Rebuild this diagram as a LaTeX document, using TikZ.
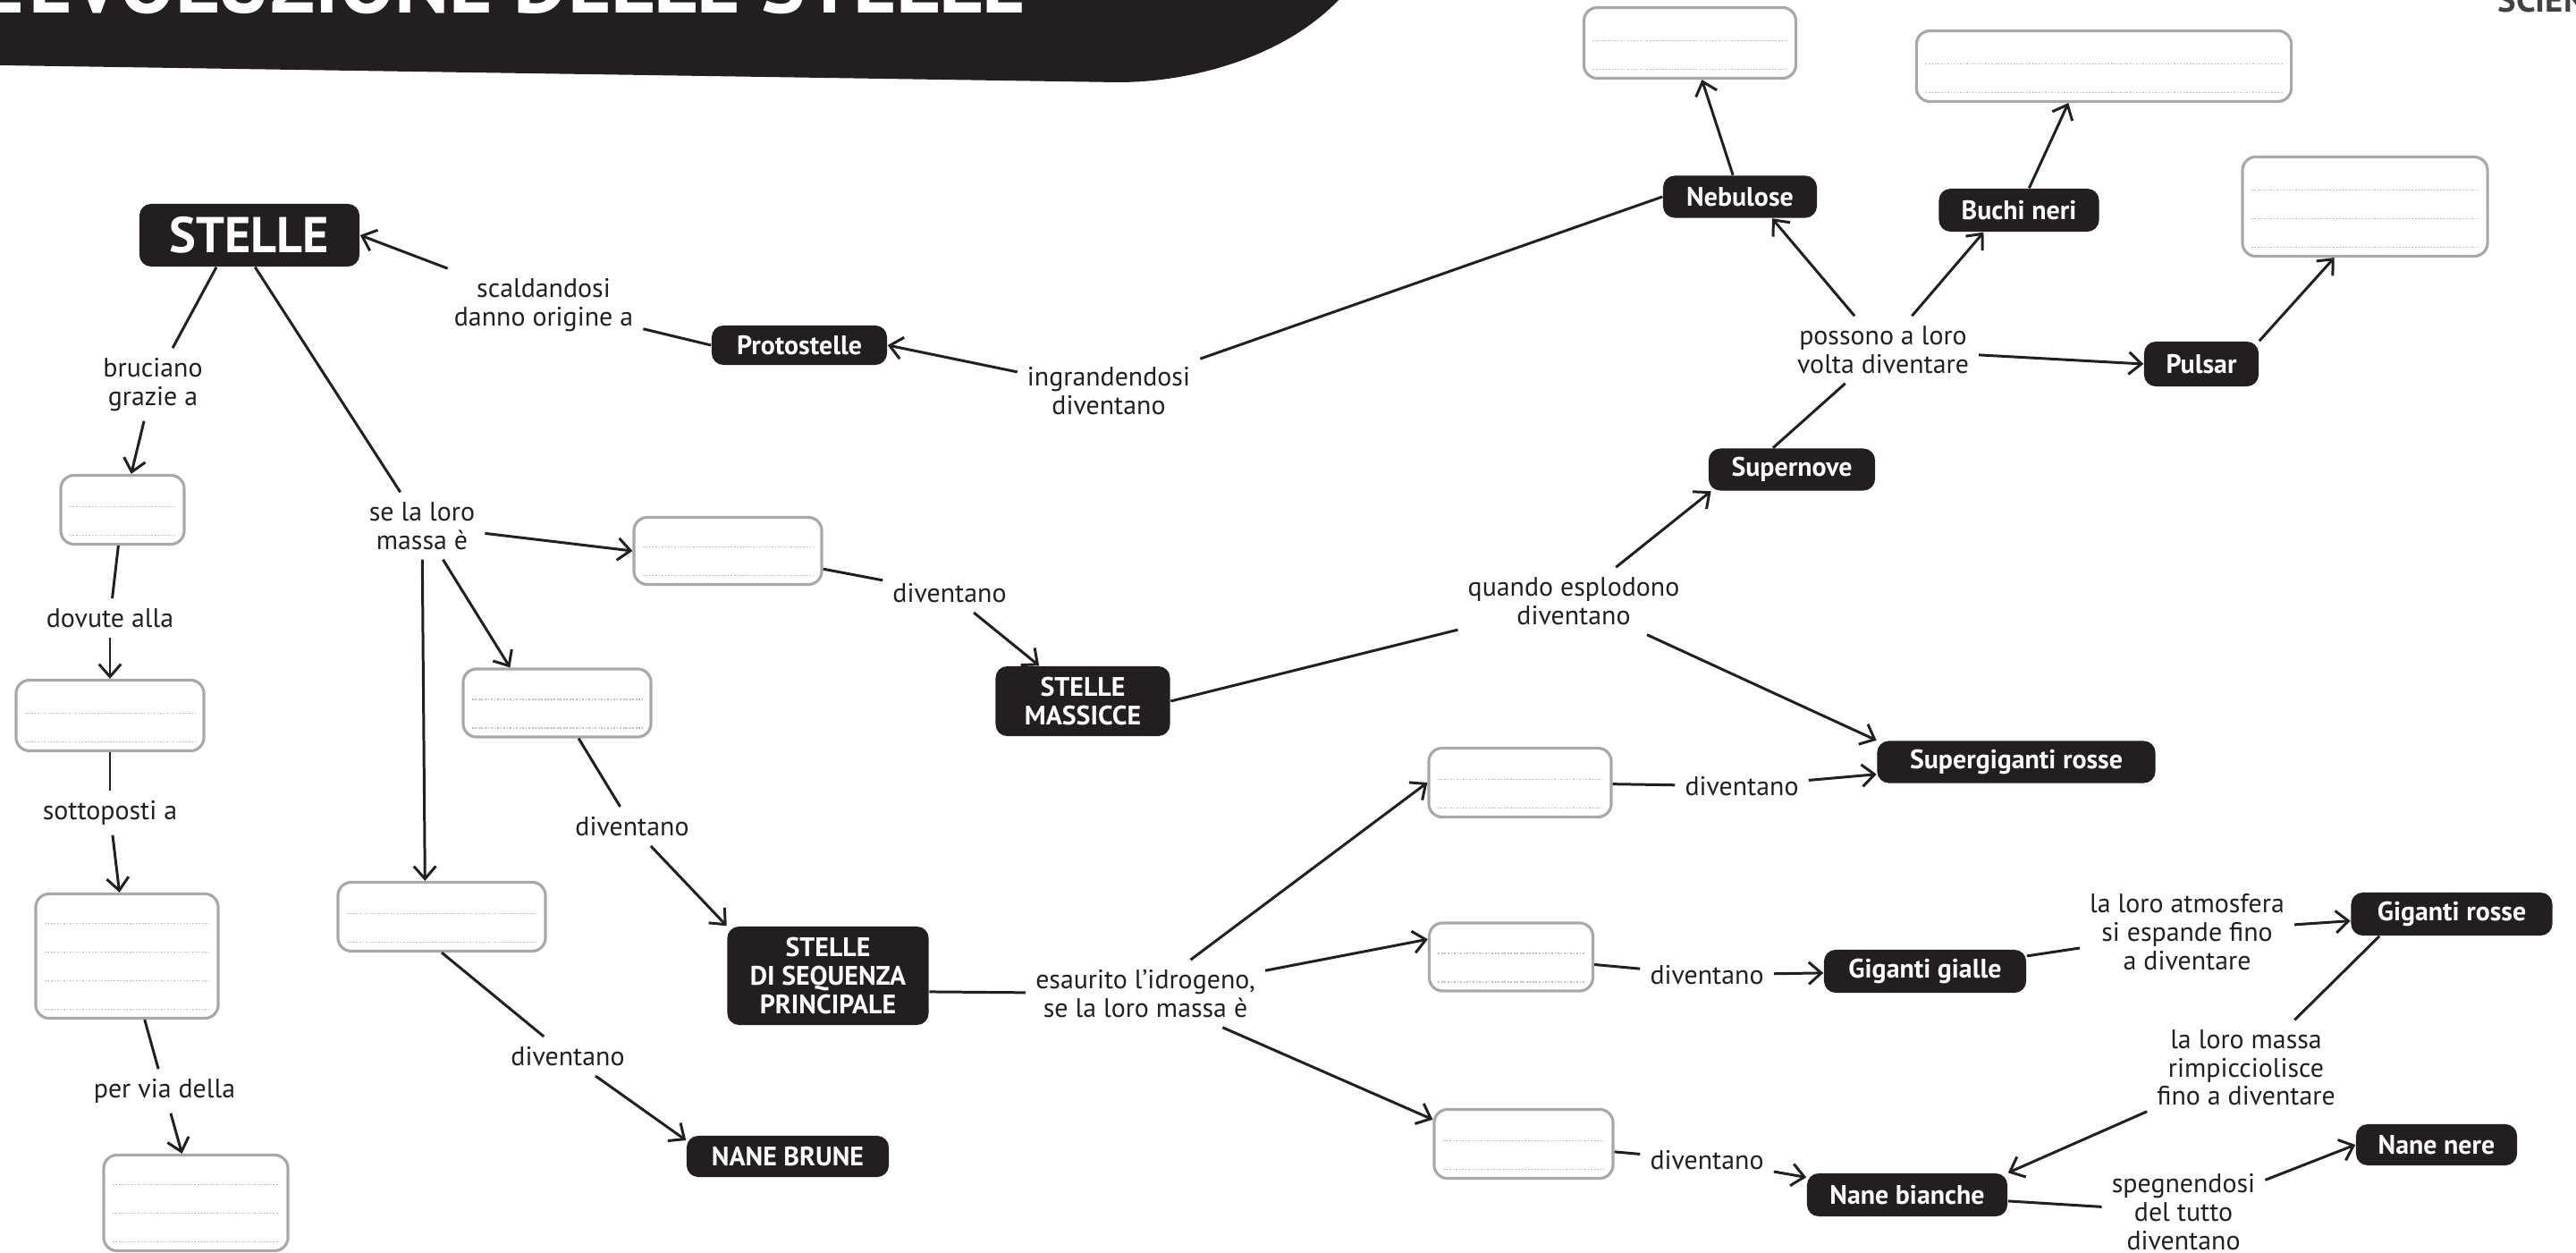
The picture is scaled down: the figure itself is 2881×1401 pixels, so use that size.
\documentclass[tikz,border=0pt]{standalone}
\usepackage{fontspec}
\setmainfont{PT Sans}
\usetikzlibrary{arrows.meta}
\definecolor{ink}{HTML}{231F20}
\definecolor{boxgray}{HTML}{A8A8A8}
\definecolor{rulegray}{HTML}{BEBEBE}
\begin{document}
\begin{tikzpicture}[x=0.01cm,y=-0.01cm,
  dark/.style={fill=ink,text=white,rounded corners=0.13cm,inner sep=0pt,align=center,
    font=\fontsize{8.5}{9.2}\selectfont\bfseries},
  blank/.style={draw=boxgray,line width=0.9pt,rounded corners=0.15cm,inner sep=0pt,fill=white,
    path picture={\foreach \k in {1,...,#1}
      \draw[rulegray,line width=0.4pt,dash pattern=on 0.5pt off 0.5pt]
        ([shift={(10,-10-32*\k+32)}]path picture bounding box.south west) --
        ([shift={(-10,-10-32*\k+32)}]path picture bounding box.south east);}},
  lbl/.style={align=center,inner sep=3pt,text=ink,font=\fontsize{8.5}{9}\selectfont},
  con/.style={ink,line width=0.85pt},
  arr/.style={con,-{Straight Barb[length=4pt,width=7pt]}}]
\useasboundingbox (0,0) rectangle (2881,1401);
\begin{scope}
\clip (0,0) rectangle (2881,1401);
\fill[ink] (0,0) -- (1497,0) .. controls (1440,60) and (1340,92) .. (1250,92) -- (0,73) -- cycle;
\node[anchor=base east,inner sep=0pt,text=white,font=\fontsize{26.5}{26.5}\selectfont\bfseries] (title) at (1148,15) {L’EVOLUZIONE DELLE STELLE};
\node[anchor=base west,inner sep=0pt,text=ink!85,font=\fontsize{11}{11}\selectfont\bfseries] (brand) at (2793,14) {SCIENZE};
\end{scope}

\node[dark,font=\fontsize{16}{16}\selectfont\bfseries,minimum width=2.46cm,minimum height=0.70cm] (stelle) at (279,263) {STELLE};
\node[dark,minimum width=1.96cm,minimum height=0.44cm] (proto) at (894,386) {Protostelle};
\node[dark,minimum width=1.95cm,minimum height=0.78cm] (massicce) at (1211,784) {STELLE\\MASSICCE};
\node[dark,minimum width=2.25cm,minimum height=1.10cm] (seq) at (926,1091) {STELLE\\DI SEQUENZA\\PRINCIPALE};
\node[dark,minimum width=2.26cm,minimum height=0.46cm] (brune) at (881,1293) {NANE BRUNE};
\node[dark,minimum width=1.72cm,minimum height=0.47cm] (nebulose) at (1946,220) {Nebulose};
\node[dark,minimum width=1.79cm,minimum height=0.48cm] (buchi) at (2258,235) {Buchi neri};
\node[dark,minimum width=1.28cm,minimum height=0.50cm] (pulsar) at (2462,407) {Pulsar};
\node[dark,minimum width=1.86cm,minimum height=0.47cm] (supernove) at (2004,525) {Supernove};
\node[dark,minimum width=3.11cm,minimum height=0.47cm] (supergiganti) at (2255,852) {Supergiganti rosse};
\node[dark,minimum width=2.26cm,minimum height=0.48cm] (gialle) at (2153,1086) {Giganti gialle};
\node[dark,minimum width=2.25cm,minimum height=0.48cm] (rosse) at (2742,1022) {Giganti rosse};
\node[dark,minimum width=2.24cm,minimum height=0.48cm] (bianche) at (2133,1336) {Nane bianche};
\node[dark,minimum width=1.80cm,minimum height=0.46cm] (nere) at (2725,1280) {Nane nere};

\node[blank=2,minimum width=1.38cm,minimum height=0.77cm] (boxA) at (137,570) {};
\node[blank=2,minimum width=2.10cm,minimum height=0.79cm] (boxB) at (123,800) {};
\node[blank=4,minimum width=2.04cm,minimum height=1.39cm] (boxC) at (142,1069) {};
\node[blank=3,minimum width=2.06cm,minimum height=1.07cm] (boxD) at (219,1345) {};
\node[blank=2,minimum width=2.10cm,minimum height=0.75cm] (boxE) at (814,616) {};
\node[blank=2,minimum width=2.10cm,minimum height=0.76cm] (boxF) at (623,786) {};
\node[blank=2,minimum width=2.32cm,minimum height=0.77cm] (boxG) at (494,1025) {};
\node[blank=2,minimum width=2.04cm,minimum height=0.77cm] (boxH) at (1700,875) {};
\node[blank=2,minimum width=1.83cm,minimum height=0.76cm] (boxI) at (1690,1070) {};
\node[blank=2,minimum width=2.00cm,minimum height=0.77cm] (boxJ) at (1704,1279) {};
\node[blank=2,minimum width=2.37cm,minimum height=0.79cm] (boxK) at (1890,48) {};
\node[blank=2,minimum width=4.19cm,minimum height=0.79cm] (boxL) at (2353,74) {};
\node[blank=3,minimum width=2.74cm,minimum height=1.11cm] (boxM) at (2645,231) {};

\node[lbl] (bruciano) at (171,430) {bruciano\\grazie a};
\node[lbl] (dovute) at (123,691) {dovute alla};
\node[lbl] (sottoposti) at (123,909) {sottoposti a};
\node[lbl] (pervia) at (184,1220) {per via della};
\node[lbl] (selaloro) at (472,588) {se la loro\\massa è};
\node[lbl] (scald) at (608,341) {scaldandosi\\danno origine a};
\node[lbl] (ingr) at (1240,437) {ingrandendosi\\diventano};
\node[lbl] (div1) at (1062,663) {diventano};
\node[lbl] (div2) at (707,924) {diventano};
\node[lbl] (div3) at (635,1181) {diventano};
\node[lbl] (quando) at (1760,672) {quando esplodono\\diventano};
\node[lbl] (possono) at (2106,391) {possono a loro\\volta diventare};
\node[lbl] (div4) at (1948,879) {diventano};
\node[lbl] (div5) at (1909,1090) {diventano};
\node[lbl] (div6) at (1909,1297) {diventano};
\node[lbl] (esaurito) at (1281,1111) {esaurito l’idrogeno,\\se la loro massa è};
\node[lbl] (atmos) at (2446,1042) {la loro atmosfera\\si espande fino\\a diventare};
\node[lbl] (massa) at (2512,1194) {la loro massa\\rimpicciolisce\\fino a diventare};
\node[lbl] (spegn) at (2442,1355) {spegnendosi\\del tutto\\diventano};

\draw[con] (stelle.224) -- (bruciano);
\draw[arr] (bruciano) -- (boxA);
\draw[con] (boxA) -- (dovute);
\draw[arr] (dovute) -- (boxB);
\draw[con] (boxB) -- (sottoposti);
\draw[arr] (sottoposti) -- (boxC);
\draw[con] (boxC) -- (pervia);
\draw[arr] (pervia) -- (boxD);
\draw[con] (stelle.-80) -- (selaloro);
\draw[arr] (scald) -- (stelle.east);
\draw[con] (proto.west) -- (scald);
\draw[arr] (ingr) -- (proto.east);
\draw[con] (nebulose.west) -- (ingr);
\draw[arr] (selaloro) -- (boxE.west);
\draw[arr] (selaloro) -- (boxF.143);
\draw[arr] (selaloro) -- (boxG.115);
\draw[con] (boxE) -- (div1);
\draw[arr] (div1) -- (massicce);
\draw[con] (boxF) -- (div2);
\draw[arr] (div2) -- (seq.north west);
\draw[con] (boxG.south) -- (div3);
\draw[arr] (div3) -- (brune.171);
\draw[con] (seq.-9) -- (esaurito);
\draw[arr] (esaurito) -- (boxH.west);
\draw[arr] (esaurito) -- (boxI.168);
\draw[arr] (esaurito) -- (boxJ.165);
\draw[con] (massicce.east) -- (quando);
\draw[arr] (quando) -- (supernove.195);
\draw[arr] (quando) -- (supergiganti.north west);
\draw[con] (supernove.131) -- (possono);
\draw[arr] (possono) -- (nebulose.-34);
\draw[arr] (possono) -- (buchi.212);
\draw[arr] (possono) -- (pulsar.west);
\draw[arr] (nebulose) -- (boxK);
\draw[arr] (buchi) -- (boxL.226);
\draw[arr] (pulsar.north east) -- (boxM.239);
\draw[con] (boxH) -- (div4);
\draw[arr] (div4) -- (supergiganti);
\draw[con] (boxI) -- (div5);
\draw[arr] (div5) -- (gialle);
\draw[con] (gialle) -- (atmos);
\draw[arr] (atmos) -- (rosse);
\draw[con] (rosse.197) -- (massa);
\draw[arr] (massa) -- (bianche.north east);
\draw[con] (boxJ) -- (div6);
\draw[arr] (div6) -- (bianche);
\draw[con] (bianche) -- (spegn);
\draw[arr] (spegn) -- (nere.west);
\end{tikzpicture}
\end{document}
